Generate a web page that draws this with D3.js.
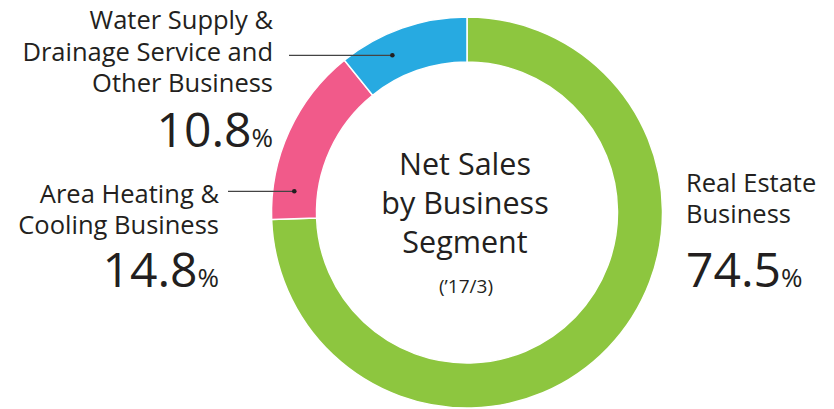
<!DOCTYPE html>
<html>
<head>
<meta charset="utf-8">
<script src="https://cdn.jsdelivr.net/npm/d3@7"></script>
<style>
  body { margin: 0; background: #fff; }
  svg text { font-family: "Open Sans", "Noto Sans", sans-serif; fill: #231f20; }
</style>
</head>
<body>
<svg id="chart" width="834" height="409"></svg>
<script>
var segments = ["Real Estate Business", "Area Heating & Cooling Business", "Water Supply & Drainage Service and Other Business"];
var shares = [74.5, 14.8, 10.8];
var colors = ["#8dc63f", "#f15a8a", "#27aae1"];
var labelLines = [["Real Estate", "Business"], ["Area Heating &", "Cooling Business"], ["Water Supply &", "Drainage Service and", "Other Business"]];
var centerLines = ["Net Sales", "by Business", "Segment"];
var period = "(\u201917/3)";

var svg = d3.select("#chart");
var cx = 467, cy = 212.5;
var outerR = 195.5, innerR = 150.5;

var pie = d3.pie().sort(null).value(function(d) { return d; });
var arc = d3.arc().innerRadius(innerR).outerRadius(outerR);

var g = svg.append("g").attr("transform", "translate(" + cx + "," + cy + ")");

g.selectAll("path")
	.data(pie(shares))
	.enter()
	.append("path")
	.attr("d", arc)
	.attr("fill", function(d, i) { return colors[i]; })
	.attr("stroke", "white")
	.attr("stroke-width", 1.5);

// center title
var ct = svg.append("text")
	.attr("text-anchor", "middle")
	.style("font-size", "30.5px");
centerLines.forEach(function(t, i) {
	ct.append("tspan").attr("x", 465).attr("y", 175 + i * 39).text(t);
});
svg.append("text")
	.attr("x", 466).attr("y", 293)
	.attr("text-anchor", "middle")
	.style("font-size", "19px")
	.text(period);

// leader lines: [angle in degrees, start x]
var leaders = [null, [277, 228], [334.6, 289]];
leaders.forEach(function(l, i) {
	if (!l) return;
	var a = l[0] * Math.PI / 180, r = 174;
	var px = cx + r * Math.sin(a), py = cy - r * Math.cos(a);
	svg.append("line")
		.attr("x1", l[1]).attr("y1", py)
		.attr("x2", px).attr("y2", py)
		.attr("stroke", "#444").attr("stroke-width", 1.2);
	svg.append("circle")
		.attr("cx", px).attr("cy", py).attr("r", 2.3)
		.attr("fill", "#231f20");
});

// side labels: anchor, x, first baseline, line gap, value baseline
var labelPos = [
	{anchor: "start", x: 686, y: 192, gap: 31, vy: 287},
	{anchor: "end", x: 219, y: 203, gap: 31, vy: 287},
	{anchor: "end", x: 273, y: 29, gap: 31.5, vy: 147}
];

labelPos.forEach(function(p, i) {
	var t = svg.append("text")
		.attr("text-anchor", p.anchor)
		.style("font-size", "25.5px");
	labelLines[i].forEach(function(s, j) {
		t.append("tspan").attr("x", p.x).attr("y", p.y + j * p.gap).text(s);
	});
	var v = svg.append("text")
		.attr("x", p.x).attr("y", p.vy)
		.attr("text-anchor", p.anchor);
	v.append("tspan").style("font-size", "48px").text(d3.format(".1f")(shares[i]));
	v.append("tspan").style("font-size", "26px").text("%");
});
</script>
</body>
</html>
